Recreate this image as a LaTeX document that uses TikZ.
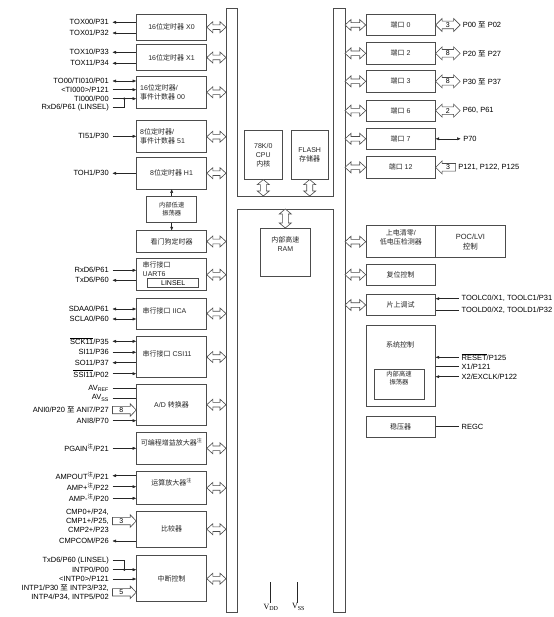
\documentclass[tikz,border=0pt]{standalone}
\usepackage{fontspec}
\setmainfont{Liberation Sans}
\newfontfamily\cjk{Noto Sans CJK SC}
\newfontfamily\vfont{Liberation Serif}
\newcommand\zh[1]{{\cjk #1}}
\usetikzlibrary{arrows.meta,calc}
\newcommand\hdbl[2]{\draw[busl] let \p1=#1, \p2=#2 in (\x1,\y1) -- (\x1+6pt,\y1+5.5pt) -- (\x1+6pt,\y1+2.3pt) -- (\x2-6pt,\y1+2.3pt) -- (\x2-6pt,\y1+5.5pt) -- (\x2,\y1) -- (\x2-6pt,\y1-5.5pt) -- (\x2-6pt,\y1-2.3pt) -- (\x1+6pt,\y1-2.3pt) -- (\x1+6pt,\y1-5.5pt) -- cycle;}
\newcommand\vdbl[2]{\draw[busl] let \p1=#1, \p2=#2 in (\x1,\y1) -- (\x1+6pt,\y1-5pt) -- (\x1+3pt,\y1-5pt) -- (\x1+3pt,\y2+5pt) -- (\x1+6pt,\y2+5pt) -- (\x1,\y2) -- (\x1-6pt,\y2+5pt) -- (\x1-3pt,\y2+5pt) -- (\x1-3pt,\y1-5pt) -- (\x1-6pt,\y1-5pt) -- cycle;}
\newcommand\portarr[3]{\draw[busl] let \p1=(#1.east) in (\x1,\y1) -- (\x1+6.5pt,\y1+6.5pt) -- (\x1+6.5pt,\y1+3.8pt) -- (\x1+18pt,\y1+3.8pt) -- (\x1+18pt,\y1+6.5pt) -- (\x1+24.5pt,\y1) -- (\x1+18pt,\y1-6.5pt) -- (\x1+18pt,\y1-3.8pt) -- (\x1+6.5pt,\y1-3.8pt) -- (\x1+6.5pt,\y1-6.5pt) -- cycle (\x1+12.25pt,\y1) node[num] (#3) {#2};}
\newcommand\inarr[4]{\draw[busl] let \p1=#1, \p2=(#2.west) in (\x2,\y1) -- (\x2-6pt,\y1+6.3pt) -- (\x2-6pt,\y1+3.7pt) -- (\x1,\y1+3.7pt) -- (\x1,\y1-3.7pt) -- (\x2-6pt,\y1-3.7pt) -- (\x2-6pt,\y1-6.3pt) -- cycle (\x1/2+\x2/2-3pt,\y1) node[num] (#4) {#3};}
\begin{document}
\begin{tikzpicture}[x=1pt,y=-1pt,>={Triangle[length=3.5pt,width=2.8pt]},
  blk/.style={draw=black!70, line width=0.6pt, inner sep=1pt, align=center, text=black!85, font=\fontsize{7}{9}\selectfont},
  sz/.style 2 args={minimum width=#1pt, minimum height=#2pt},
  txt/.style={inner sep=0pt, align=left, text=black!85, font=\fontsize{7}{9}\selectfont},
  small/.style={font=\fontsize{6.3}{8}\selectfont},
  lbl/.style={anchor=east, inner xsep=3.5pt, inner ysep=0.5pt, align=right, font=\fontsize{7.5}{9}\selectfont},
  rlbl/.style={anchor=west, inner xsep=2.5pt, inner ysep=0.5pt, align=left, font=\fontsize{7.5}{9}\selectfont},
  num/.style={inner sep=0pt, font=\fontsize{7}{8}\selectfont},
  sig/.style={draw=black!85, line width=0.5pt},
  busl/.style={draw=black!70, line width=0.6pt, fill=white}]
\useasboundingbox (0,0) rectangle (553,617);
% ---------- bus ----------
\draw[busl,fill=none] (226,8) -- (237,8) -- (237,196) -- (333,196) -- (333,8) -- (345,8) -- (345,612) -- (333,612) -- (333,209) -- (237,209) -- (237,612) -- (226,612) -- cycle;
\coordinate (busL) at (226,300);
\coordinate (busR) at (345,300);
\coordinate (hbT) at (285,196);
\coordinate (hbB) at (285,209);
% ---------- core ----------
\node[blk, sz={38}{48.6}] (cpu) at (263.3,155) {78K/0\\CPU\\\zh{内核}};
\node[blk, sz={37.3}{48.6}] (flash) at (309.7,155) {FLASH\\\zh{存储器}};
\node[blk, sz={50.7}{48.4}] (ram) at (285.3,252.5) {\zh{内部高速}\\RAM\\[8pt]};
\vdbl{(cpu.south)}{(cpu.south |- hbT)}
\vdbl{(flash.south)}{(flash.south |- hbT)}
\vdbl{(hbB -| ram.north)}{(ram.north)}
% ---------- left blocks ----------
\node[blk, sz={70}{25.7}] (x0) at (171.5,27.2) {16\zh{位定时器} X0};
\node[blk, sz={70}{25.6}] (x1) at (171.5,57.5) {16\zh{位定时器} X1};
\node[blk, sz={70}{32}] (t00) at (171.5,92.3) {};
\node[txt, anchor=west] (t00t) at (140,92) {16\zh{位定时器}/\\\zh{事件计数器} 00};
\node[blk, sz={70}{32}] (t51) at (171.5,136.7) {};
\node[txt, anchor=west] (t51t) at (140,136.5) {8\zh{位定时器}/\\\zh{事件计数器} 51};
\node[blk, sz={70}{31.7}] (h1) at (171.5,173.2) {8\zh{位定时器} H1};
\node[blk, sz={50}{26.7}, small] (osc) at (171.7,209.4) {\zh{内部低速}\\\zh{振荡器}};
\node[blk, sz={70}{21.6}] (wdt) at (171.5,241.5) {\zh{看门狗定时器}};
\node[blk, sz={70}{32}] (uart) at (171.5,274.7) {};
\node[txt, anchor=west] (uartt) at (142.5,269) {\zh{串行接口}\\UART6};
\node[draw=black!70, line width=0.6pt, sz={51}{8.6}, inner sep=0pt, font=\fontsize{7}{8}\selectfont] (lin) at (173.2,283) {LINSEL};
\node[blk, sz={70}{31}] (iica) at (171.5,313.5) {};
\node[txt, anchor=west] (iicat) at (142.5,310.5) {\zh{串行接口} IICA};
\node[blk, sz={70}{40.6}] (csi) at (171.5,357) {};
\node[txt, anchor=west] (csit) at (142.5,353.5) {\zh{串行接口} CSI11};
\node[blk, sz={70}{40.7}] (ad) at (171.5,404.7) {A/D \zh{转换器}};
\node[blk, sz={70}{32}] (pga) at (171.5,448.3) {\zh{可编程增益放大器}\textsuperscript{\zh{注}}\\[3pt]};
\node[blk, sz={70}{32.3}] (opa) at (171.5,487.9) {\zh{运算放大器}\textsuperscript{\zh{注}}\\[3pt]};
\node[blk, sz={70}{36.3}] (cmp) at (171.5,529.2) {\zh{比较器}};
\node[blk, sz={70}{46}] (intc) at (171.5,578.7) {\zh{中断控制}};
\draw[sig,->] (osc.north) -- (osc.north |- h1.south);
\draw[sig,->] (osc.south) -- (osc.south |- wdt.north);
\foreach \b in {x0,x1,t00,t51,h1,wdt,uart,iica,csi,ad,pga,opa,cmp,intc}
  {\hdbl{(\b.east)}{(busL |- \b.east)}}
% ---------- right blocks ----------
\node[blk, sz={69.3}{20.6}] (p0) at (400.65,25) {\zh{端口} 0};
\node[blk, sz={69.3}{21.3}] (p2) at (400.65,53.35) {\zh{端口} 2};
\node[blk, sz={69.3}{21.3}] (p3) at (400.65,81.35) {\zh{端口} 3};
\node[blk, sz={69.3}{21.3}] (p6) at (400.65,110.65) {\zh{端口} 6};
\node[blk, sz={69.3}{21}] (p7) at (400.65,138.8) {\zh{端口} 7};
\node[blk, sz={69.3}{21.3}] (p12) at (400.65,167.35) {\zh{端口} 12};
\node[blk, sz={69.7}{32}] (poca) at (400.85,241.7) {\zh{上电清零}/\\\zh{低电压检测器}\\[1pt]};
\node[blk, sz={69.3}{32}, font=\fontsize{7.5}{10}\selectfont] (pocb) at (470.35,241.7) {POC/LVI\\\zh{控制}};
\node[blk, sz={69.3}{20.7}] (rst) at (400.65,274.65) {\zh{复位控制}};
\node[blk, sz={69.3}{21.4}] (ocd) at (400.65,305) {\zh{片上调试}};
\node[blk, sz={69.3}{81.4}] (sys) at (400.65,366) {};
\node[txt] (syst) at (400,345) {\zh{系统控制}};
\node[blk, sz={50}{30}, small] (hosc) at (399,384) {\zh{内部高速}\\\zh{振荡器}\\[4pt]};
\node[blk, sz={69.3}{21}] (reg) at (400.65,427.2) {\zh{稳压器}};
\foreach \b in {p0,p2,p3,p6,p7,p12,poca,rst,ocd}
  {\hdbl{(busR |- \b.west)}{(\b.west)}}
% ports
\portarr{p0}{3}{n0}
\portarr{p2}{8}{n2}
\portarr{p3}{8}{n3}
\portarr{p6}{2}{n6}
\draw[busl] let \p1=(p12.east) in (\x1,\y1) -- (\x1+6.5pt,\y1+6.5pt) -- (\x1+6.5pt,\y1+3.8pt) -- (\x1+20pt,\y1+3.8pt) -- (\x1+20pt,\y1-3.8pt) -- (\x1+6.5pt,\y1-3.8pt) -- (\x1+6.5pt,\y1-6.5pt) -- cycle (\x1+12.5pt,\y1) node[num] (n12) {3};
\node[rlbl] (lp0) at ($(p0.east)+(24.5,0)$) {P00 \zh{至} P02};
\node[rlbl] (lp2) at ($(p2.east)+(24.5,0)$) {P20 \zh{至} P27};
\node[rlbl] (lp3) at ($(p3.east)+(24.5,0)$) {P30 \zh{至} P37};
\node[rlbl] (lp6) at ($(p6.east)+(24.5,0)$) {P60, P61};
\node[rlbl] (lp7) at ($(p7.east)+(25,0)$) {P70};
\node[rlbl] (lp12) at ($(p12.east)+(20,0)$) {P121, P122, P125};
\draw[sig,<->] (p7.east) -- (lp7.west);
% right signals
\node[rlbl] (ltc) at (459,298.7) {TOOLC0/X1, TOOLC1/P31};
\node[rlbl] (ltd) at (459,310) {TOOLD0/X2, TOOLD1/P32};
\node[rlbl] (lrs) at (459,357.3) {$\overline{\mbox{RESET}}$/P125};
\node[rlbl] (lx1) at (459,366.7) {X1/P121};
\node[rlbl] (lx2) at (459,376.7) {X2/EXCLK/P122};
\node[rlbl] (lrg) at (459,426.7) {REGC};
\draw[sig,->] (ltc.west) -- (ocd.east |- ltc.west);
\draw[sig] (ltd.west) -- (ocd.east |- ltd.west);
\draw[sig,->] (lrs.west) -- (sys.east |- lrs.west);
\draw[sig] (lx1.west) -- (sys.east |- lx1.west);
\draw[sig,->] (lx2.west) -- (sys.east |- lx2.west);
\draw[sig] (lrg.west) -- (reg.east |- lrg.west);
% ---------- left signals ----------
\node[lbl] (a1) at (112.5,22.3) {TOX00/P31};
\node[lbl] (a2) at (112.5,33) {TOX01/P32};
\node[lbl] (a3) at (112.5,52.3) {TOX10/P33};
\node[lbl] (a4) at (112.5,63.3) {TOX11/P34};
\node[lbl] (a5) at (112.5,81) {TO00/TI010/P01};
\node[lbl] (a6) at (112.5,89.7) {<TI000>/P121};
\node[lbl] (a7) at (112.5,98.7) {TI000/P00};
\node[lbl] (a8) at (112.5,107.3) {RxD6/P61 (LINSEL)};
\node[lbl] (a9) at (112.5,136.3) {TI51/P30};
\node[lbl] (a10) at (112.5,173.3) {TOH1/P30};
\draw[sig,->] (x0.west |- a1.east) -- (a1.east);
\draw[sig,->] (x0.west |- a2.east) -- (a2.east);
\draw[sig,->] (x1.west |- a3.east) -- (a3.east);
\draw[sig,->] (x1.west |- a4.east) -- (a4.east);
\draw[sig,<->] (a5.east) -- (t00.west |- a5.east);
\draw[sig,->] (a6.east) -- (t00.west |- a6.east);
\draw[sig,->] (a7.east) -- (t00.west |- a7.east);
\coordinate (j1) at (124.3,98.7);
\draw[sig] (a8.east) -| (j1);
\fill[black!85] (j1) circle (1.3pt);
\draw[sig,->] (a9.east) -- (t51.west |- a9.east);
\draw[sig,->] (h1.west |- a10.east) -- (a10.east);
\node[lbl] (b1) at (112.5,270.3) {RxD6/P61};
\node[lbl] (b2) at (112.5,280.3) {TxD6/P60};
\node[lbl] (b3) at (112.5,309) {SDAA0/P61};
\node[lbl] (b4) at (112.5,319) {SCLA0/P60};
\node[lbl] (b5) at (112.5,341.3) {$\overline{\mbox{SCK11}}$/P35};
\node[lbl] (b6) at (112.5,352.3) {SI11/P36};
\node[lbl] (b7) at (112.5,362.7) {SO11/P37};
\node[lbl] (b8) at (112.5,373.7) {$\overline{\mbox{SSI11}}$/P02};
\node[lbl] (b9) at (112.5,388.3) {AV\textsubscript{REF}};
\node[lbl] (b10) at (112.5,398) {AV\textsubscript{SS}};
\node[lbl] (b11) at (112.5,410) {ANI0/P20 \zh{至} ANI7/P27};
\node[lbl] (b12) at (112.5,420.7) {ANI8/P70};
\draw[sig,->] (b1.east) -- (uart.west |- b1.east);
\draw[sig,->] (uart.west |- b2.east) -- (b2.east);
\draw[sig,<->] (b3.east) -- (iica.west |- b3.east);
\draw[sig,<->] (b4.east) -- (iica.west |- b4.east);
\draw[sig,<->] (b5.east) -- (csi.west |- b5.east);
\draw[sig,->] (b6.east) -- (csi.west |- b6.east);
\draw[sig,->] (csi.west |- b7.east) -- (b7.east);
\draw[sig,->] (b8.east) -- (csi.west |- b8.east);
\draw[sig] (b9.east) -- (ad.west |- b9.east);
\draw[sig] (b10.east) -- (ad.west |- b10.east);
\inarr{(b11.east)}{ad}{8}{n8}
\draw[sig,->] (b12.east) -- (ad.west |- b12.east);
\node[lbl] (c1) at (112.5,448.3) {PGAIN\textsuperscript{\zh{注}}/P21};
\node[lbl] (c2) at (112.5,475.7) {AMPOUT\textsuperscript{\zh{注}}/P21};
\node[lbl] (c3) at (112.5,486.7) {AMP+\textsuperscript{\zh{注}}/P22};
\node[lbl] (c4) at (112.5,498.3) {AMP-\textsuperscript{\zh{注}}/P20};
\node[lbl] (c5) at (112.5,512.3) {CMP0+/P24,};
\node[lbl] (c6) at (112.5,521) {CMP1+/P25,};
\node[lbl] (c7) at (112.5,529.7) {CMP2+/P23};
\node[lbl] (c8) at (112.5,541) {CMPCOM/P26};
\draw[sig,->] (c1.east) -- (pga.west |- c1.east);
\draw[sig,->] (opa.west |- c2.east) -- (c2.east);
\draw[sig,->] (c3.east) -- (opa.west |- c3.east);
\draw[sig,->] (c4.east) -- (opa.west |- c4.east);
\inarr{(c6.east)}{cmp}{3}{n3b}
\draw[sig,->] (cmp.west |- c8.east) -- (c8.east);
\node[lbl] (d1) at (112.5,560.3) {TxD6/P60 (LINSEL)};
\node[lbl] (d2) at (112.5,569.7) {INTP0/P00};
\node[lbl] (d3) at (112.5,579) {<INTP0>/P121};
\node[lbl] (d4) at (112.5,587.7) {INTP1/P30 \zh{至} INTP3/P32,};
\node[lbl] (d5) at (112.5,597) {INTP4/P34, INTP5/P02};
\coordinate (j2) at (124.3,569.7);
\draw[sig] (d1.east) -| (j2);
\draw[sig,->] (d2.east) -- (intc.west |- d2.east);
\fill[black!85] (j2) circle (1.3pt);
\draw[sig,->] (d3.east) -- (intc.west |- d3.east);
\coordinate (ia) at (112.5,592.3);
\inarr{(ia)}{intc}{5}{n5}
% ---------- supply ----------
\node[inner sep=0.5pt, font=\vfont\fontsize{8}{9}\selectfont] (vdd) at (271,607) {V\textsubscript{DD}};
\node[inner sep=0.5pt, font=\vfont\fontsize{8}{9}\selectfont] (vss) at (298.5,607) {V\textsubscript{SS}};
\coordinate (vddt) at (270,582);
\coordinate (vsst) at (297.7,582);
\draw[sig] (vddt) -- (vddt |- vdd.north);
\draw[sig] (vsst) -- (vsst |- vss.north);
\end{tikzpicture}
\end{document}
